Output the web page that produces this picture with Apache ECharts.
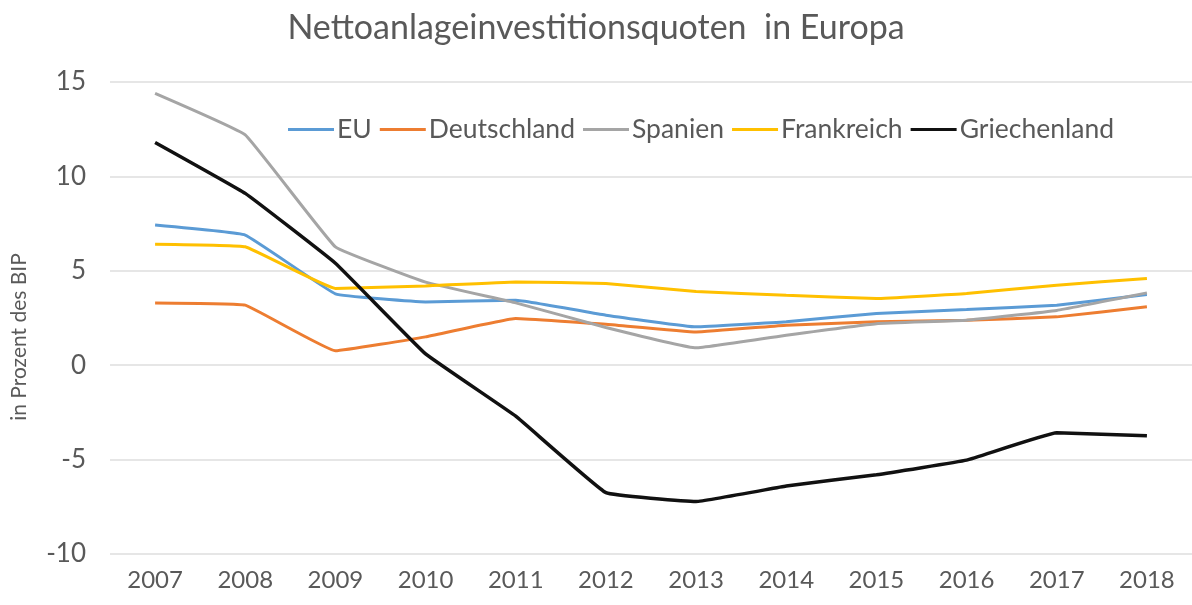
<!DOCTYPE html>
<html>
<head>
<meta charset="utf-8">
<script src="https://cdn.jsdelivr.net/npm/echarts@6/dist/echarts.min.js"></script>
<style>
html,body{margin:0;padding:0;background:#fff;}
#chart{width:1192px;height:605px;}
</style>
</head>
<body>
<div id="chart"></div>
<script>
const years = ['2007','2008','2009','2010','2011','2012','2013','2014','2015','2016','2017','2018'];
const eu = [7.42, 6.89, 3.78, 3.35, 3.44, 2.65, 2.03, 2.3, 2.74, 2.95, 3.18, 3.74];
const deutschland = [3.3, 3.18, 0.76, 1.5, 2.47, 2.17, 1.76, 2.12, 2.3, 2.38, 2.56, 3.09];
const spanien = [14.4, 12.2, 6.27, 4.4, 3.3, 2.0, 0.92, 1.59, 2.2, 2.38, 2.9, 3.83];
const frankreich = [6.41, 6.27, 4.06, 4.2, 4.41, 4.33, 3.9, 3.7, 3.53, 3.8, 4.24, 4.59];
const griechenland = [11.8, 9.1, 5.4, 0.6, -2.7, -6.75, -7.22, -6.4, -5.8, -5.03, -3.58, -3.74];
const seriesNames = ['EU','Deutschland','Spanien','Frankreich','Griechenland'];
const seriesData = [eu, deutschland, spanien, frankreich, griechenland];
const colors = ['#5B9BD5','#ED7D31','#A5A5A5','#FFC000','#111111'];
const widths = [3, 3, 3, 3, 3.5];

const chart = echarts.init(document.getElementById('chart'), null, {renderer:'canvas'});
const font = 'Lato, "Noto Sans", sans-serif';
chart.setOption({
  animation:false,
  backgroundColor:'#ffffff',
  color: colors,
  title:{
    text:'Nettoanlageinvestitionsquoten  in Europa',
    left:'center',
    top:6,
    textStyle:{fontFamily:font,fontSize:34,fontWeight:'normal',color:'#595959'}
  },
  legend:{
    top:111,
    left:283,
    itemWidth:46,
    itemHeight:3,
    itemGap:8,
    icon:'rect',
    textStyle:{fontFamily:font,fontSize:26.5,color:'#595959',padding:[0,0,0,-2]},
    data:seriesNames
  },
  grid:{left:110,right:-6,top:82,bottom:51},
  xAxis:{
    type:'category',
    data:years,
    boundaryGap:true,
    axisLine:{show:false},
    axisTick:{show:false},
    axisLabel:{fontFamily:font,fontSize:24,color:'#595959',margin:14}
  },
  yAxis:{
    type:'value',
    min:-10,max:15,interval:5,
    name:'in Prozent des BIP',
    nameLocation:'middle',
    nameGap:80,
    nameTextStyle:{fontFamily:font,fontSize:21,color:'#595959',padding:[0,38,0,0]},
    axisLine:{show:false},
    axisTick:{show:false},
    axisLabel:{fontFamily:font,fontSize:26,color:'#595959',margin:24},
    splitLine:{lineStyle:{color:'#e6e6e6',width:2}}
  },
  series: seriesNames.map((n,i)=>({
    name:n,
    type:'line',
    data:seriesData[i],
    showSymbol:false,
    smooth:0.08,
    lineStyle:{color:colors[i],width:widths[i]},
    itemStyle:{color:colors[i]},
    z: i===4 ? 3 : 2
  }))
});
</script>
</body>
</html>
